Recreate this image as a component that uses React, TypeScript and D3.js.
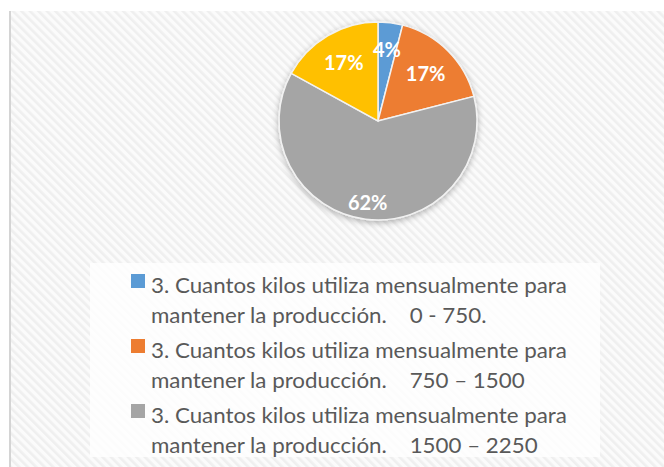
import React, { useEffect, useRef } from "react";
import * as d3 from "d3";

// slice order: clockwise from 12 o'clock
const categories = [
  "3. Cuantos kilos utiliza mensualmente para|mantener la producción.    0 - 750.",
  "3. Cuantos kilos utiliza mensualmente para|mantener la producción.    750 – 1500",
  "3. Cuantos kilos utiliza mensualmente para|mantener la producción.    1500 – 2250",
  "3. Cuantos kilos utiliza mensualmente para|mantener la producción.    2250 – 3000",
];
const values = [4, 17, 62, 17];
const colors = ["#5B9BD5", "#ED7D31", "#A5A5A5", "#FFC000"];
const legendShown = 3; // legend box is cut after the third entry

const W = 664;
const H = 467;

const App = () => {
  const ref = useRef<SVGSVGElement>(null);

  useEffect(() => {
    const svg = d3.select(ref.current);
    svg.selectAll("*").remove();

    const defs = svg.append("defs");
    const pat = defs
      .append("pattern")
      .attr("id", "hatch")
      .attr("width", 6)
      .attr("height", 6)
      .attr("patternUnits", "userSpaceOnUse")
      .attr("patternTransform", "rotate(-45)");
    pat.append("rect").attr("width", 6).attr("height", 6).attr("fill", "#fbfbfb");
    pat.append("rect").attr("width", 2.6).attr("height", 6).attr("fill", "#efefef");

    const shadow = defs
      .append("filter")
      .attr("id", "shadow")
      .attr("x", "-20%")
      .attr("y", "-20%")
      .attr("width", "140%")
      .attr("height", "140%");
    shadow
      .append("feDropShadow")
      .attr("dx", 0)
      .attr("dy", 2)
      .attr("stdDeviation", 3)
      .attr("flood-color", "#000")
      .attr("flood-opacity", 0.3);

    // background
    svg.append("rect").attr("width", W).attr("height", H).attr("fill", "#ffffff");
    svg
      .append("rect")
      .attr("x", 10)
      .attr("y", 11)
      .attr("width", W - 10)
      .attr("height", H - 11)
      .attr("fill", "url(#hatch)");
    svg
      .append("line")
      .attr("x1", 10)
      .attr("x2", 10)
      .attr("y1", 11)
      .attr("y2", H)
      .attr("stroke", "#d4d4d4")
      .attr("stroke-width", 2);

    // pie
    const cx = 378;
    const cy = 121;
    const r = 99;
    const total = d3.sum(values);
    const pie = d3
      .pie<number>()
      .sort(null)
      .value((d) => d);
    const arcs = pie(values);
    const arc = d3.arc<d3.PieArcDatum<number>>().innerRadius(0).outerRadius(r);

    const g = svg.append("g").attr("transform", `translate(${cx},${cy})`);
    g.append("g")
      .attr("filter", "url(#shadow)")
      .selectAll("path")
      .data(arcs)
      .enter()
      .append("path")
      .attr("d", arc)
      .attr("fill", (d, i) => colors[i])
      .attr("stroke", "#f2f2f2")
      .attr("stroke-width", 1.5);

    g.selectAll("text.lbl")
      .data(arcs)
      .enter()
      .append("text")
      .attr("class", "lbl")
      .attr("transform", (d) => {
        const lr = d.data > 50 ? r * 0.83 : d.data < 6 ? r * 0.72 : r * 0.68;
        const a = (d.startAngle + d.endAngle) / 2;
        return `translate(${Math.sin(a) * lr},${-Math.cos(a) * lr})`;
      })
      .attr("text-anchor", "middle")
      .attr("dy", "0.36em")
      .attr("fill", "#ffffff")
      .attr("font-family", "Lato, 'Open Sans', sans-serif")
      .attr("font-weight", "bold")
      .attr("font-size", 20)
      .text((d) => `${Math.round((d.data / total) * 100)}%`);

    // legend
    svg
      .append("rect")
      .attr("x", 90)
      .attr("y", 263)
      .attr("width", 510)
      .attr("height", 194)
      .attr("fill", "#ffffff")
      .attr("fill-opacity", 0.8);

    const pitch = 65;
    const leg = svg.append("g");
    categories.slice(0, legendShown).forEach((c, i) => {
      leg
        .append("rect")
        .attr("x", 131)
        .attr("y", 274 + i * pitch)
        .attr("width", 14)
        .attr("height", 14)
        .attr("fill", colors[i]);
    });

    const txt = leg.append("g");
    categories.slice(0, legendShown).forEach((c, i) => {
      c.split("|").forEach((line, j) => {
        txt
          .append("text")
          .attr("x", 0)
          .attr("y", 293.5 + i * pitch + j * 30)
          .attr("fill", "#595959")
          .attr("font-family", "Lato, 'Open Sans', sans-serif")
          .attr("font-size", 22)
          .style("white-space", "pre")
          .text(line);
      });
    });
    const first = txt.select<SVGTextElement>("text").node();
    const natural = first ? first.getComputedTextLength() : 416;
    const sx = 416 / natural;
    txt.attr("transform", `translate(151,0) scale(${sx},1)`);
  }, []);

  return (
    <svg
      ref={ref}
      width={W}
      height={H}
      style={{ position: "absolute", left: 0, top: 0, display: "block" }}
    />
  );
};

export default App;
